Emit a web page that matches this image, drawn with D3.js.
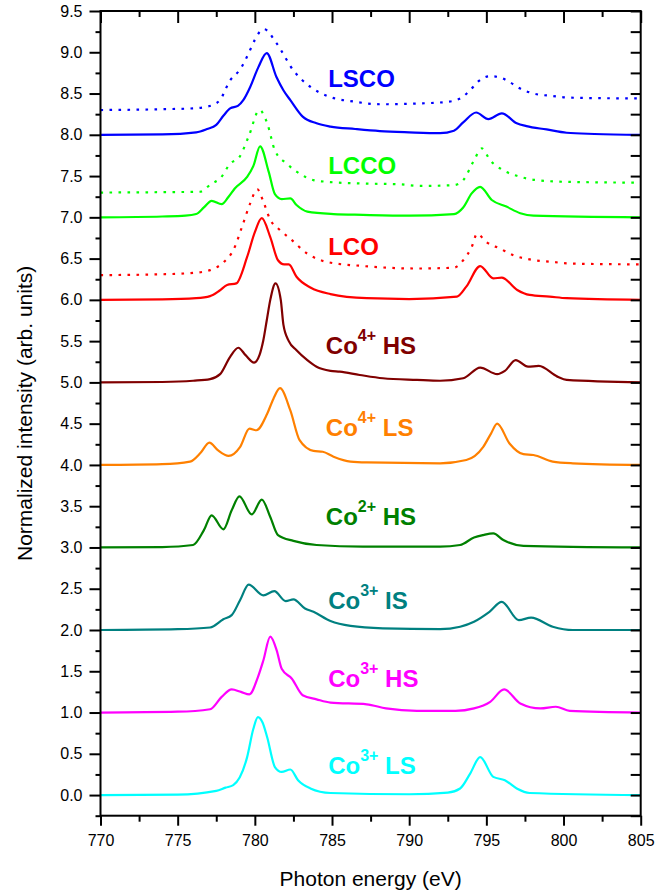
<!DOCTYPE html>
<html>
<head>
<meta charset="utf-8">
<script src="https://cdn.jsdelivr.net/npm/d3@7"></script>
<style>
  html, body { margin: 0; padding: 0; background: #fff; }
  svg { display: block; font-family: "Liberation Sans", Arial, sans-serif; }
</style>
</head>
<body>
<svg id="chart" width="669" height="894"></svg>
<script>
// Co L2,3 XAS spectra, [photon energy (eV), normalized intensity incl. vertical offset]
const lscoMeasured = [[770,8.3],[774,8.31],[776.0,8.32],[776.9,8.34],[777.75,8.42],[778.07,8.54],[778.4,8.66],[778.7,8.72],[779.0,8.78],[779.37,8.9],[779.7,9.03],[780.0,9.15],[780.33,9.25],[780.6,9.28],[781.4,9.11],[782.5,8.78],[783.6,8.58],[784.7,8.47],[786.5,8.4],[788.1,8.37],[790.7,8.38],[792.5,8.4],[793.3,8.44],[793.95,8.54],[794.5,8.65],[795.2,8.71],[795.8,8.7],[796.5,8.64],[797.2,8.56],[798.05,8.5],[799.3,8.47],[800.4,8.45],[805,8.44]];
const lscoCalc = [[770,8.0],[774,8.005],[776.2,8.03],[776.9,8.07],[777.5,8.12],[777.96,8.23],[778.4,8.32],[778.9,8.35],[779.25,8.42],[779.7,8.58],[780.23,8.82],[780.77,8.99],[781.4,8.7],[781.85,8.54],[782.3,8.42],[783.1,8.22],[784.0,8.14],[784.9,8.1],[786.5,8.07],[788.1,8.045],[790,8.03],[792,8.02],[792.9,8.05],[793.5,8.15],[794.34,8.27],[795.13,8.19],[796.0,8.26],[796.97,8.14],[797.6,8.105],[798.9,8.065],[800.2,8.025],[802,8.01],[805,8.0]];
const lccoMeasured = [[770,7.3],[774,7.305],[776.45,7.31],[777.2,7.41],[777.75,7.47],[778.4,7.65],[779.0,7.73],[779.6,7.98],[780.3,8.3],[780.8,8.14],[781.3,7.81],[782.07,7.65],[782.9,7.53],[783.8,7.45],[784.7,7.43],[787,7.41],[789.4,7.4],[790.7,7.38],[792.9,7.39],[793.5,7.45],[794.2,7.69],[794.7,7.835],[795.25,7.69],[796.1,7.57],[797.2,7.49],[798.3,7.45],[800.2,7.43],[805,7.42]];
const lccoCalc = [[770,7.0],[774,7.01],[775.5,7.02],[776.2,7.04],[776.7,7.12],[777.2,7.2],[777.85,7.16],[778.3,7.25],[778.7,7.35],[779.5,7.49],[779.9,7.62],[780.34,7.86],[780.9,7.55],[781.3,7.28],[781.74,7.22],[782.3,7.23],[782.7,7.15],[783.4,7.07],[785.1,7.04],[787,7.03],[790,7.02],[792.9,7.04],[793.5,7.12],[794.05,7.29],[794.6,7.37],[795.35,7.21],[796.3,7.13],[797.2,7.05],[798.05,7.02],[805,7.0]];
const lcoMeasured = [[770,6.3],[774,6.31],[776.2,6.33],[777.1,6.36],[778.0,6.46],[778.6,6.6],[779.25,6.93],[779.7,7.17],[780.16,7.34],[780.55,7.19],[781.0,6.97],[781.6,6.85],[782.3,6.74],[783.4,6.56],[784.65,6.46],[787,6.41],[790.5,6.38],[792.9,6.39],[793.5,6.48],[794.05,6.64],[794.4,6.8],[795.0,6.7],[795.9,6.62],[796.75,6.54],[797.8,6.49],[799.3,6.46],[800.4,6.44],[805,6.43]];
const lcoCalc = [[770,6.0],[774,6.005],[776.2,6.02],[777.1,6.045],[777.7,6.11],[778.2,6.18],[778.8,6.2],[779.5,6.52],[780.0,6.82],[780.45,6.99],[781.0,6.76],[781.5,6.48],[781.9,6.43],[782.2,6.43],[782.7,6.28],[783.6,6.15],[784.9,6.07],[787.25,6.02],[790,6.01],[793.1,6.04],[793.7,6.16],[794.6,6.41],[795.45,6.26],[796.0,6.27],[797.0,6.12],[797.8,6.06],[799.1,6.04],[800.2,6.02],[805,6.0]];
const co4HS = [[770,5.0],[774,5.005],[776,5.02],[777.1,5.04],[777.75,5.1],[778.4,5.31],[778.93,5.42],[779.4,5.33],[779.95,5.24],[780.3,5.33],[780.55,5.51],[780.77,5.75],[781.0,6.0],[781.34,6.2],[781.68,6.0],[781.85,5.7],[782.2,5.5],[782.7,5.39],[783.4,5.27],[784.0,5.19],[784.9,5.14],[785.5,5.13],[786.8,5.09],[788.3,5.05],[790.5,5.03],[792.0,5.02],[793.5,5.05],[794.6,5.18],[795.7,5.1],[796.2,5.14],[796.9,5.27],[797.7,5.19],[798.4,5.2],[799.6,5.07],[800.2,5.03],[805,5.0]];
const co4LS = [[770,4.0],[774,4.01],[775.8,4.04],[776.5,4.15],[777.05,4.27],[777.6,4.18],[778.3,4.11],[779.05,4.22],[779.65,4.44],[780.1,4.42],[780.8,4.62],[781.2,4.8],[781.63,4.93],[782.3,4.66],[782.9,4.3],[783.8,4.17],[784.4,4.16],[785.1,4.1],[786.2,4.04],[787.25,4.03],[792.0,4.02],[793.7,4.06],[794.8,4.22],[795.3,4.38],[795.7,4.5],[796.5,4.26],[797.4,4.13],[798.05,4.12],[799.3,4.04],[800.6,4.02],[805,4.0]];
const co2HS = [[770,3.0],[774,3.005],[776.0,3.03],[776.7,3.21],[777.2,3.39],[777.96,3.22],[778.5,3.45],[779.0,3.62],[779.8,3.4],[780.45,3.58],[781.0,3.37],[781.5,3.15],[782.5,3.08],[784.0,3.03],[787,3.01],[792,3.01],[793.3,3.03],[794.2,3.12],[794.8,3.15],[795.45,3.17],[796.1,3.09],[797.4,3.02],[805,3.0]];
const co3IS = [[770,2.0],[775,2.01],[777.1,2.03],[777.96,2.13],[778.5,2.18],[779.04,2.36],[779.6,2.55],[780.55,2.42],[781.26,2.47],[782.0,2.35],[782.5,2.37],[783.25,2.26],[783.8,2.22],[784.9,2.11],[786.2,2.05],[788.3,2.02],[792,2.01],[793.3,2.04],[794.2,2.1],[795.2,2.22],[796.0,2.34],[797.1,2.12],[797.9,2.15],[799.3,2.04],[800.6,2.0],[805,2.0]];
const co3HS = [[770,1.0],[775,1.01],[777.1,1.04],[777.85,1.19],[778.5,1.28],[779.1,1.25],[779.65,1.22],[780.2,1.43],[780.55,1.63],[781.0,1.92],[781.42,1.75],[781.74,1.53],[782.4,1.41],[783.1,1.21],[784.0,1.16],[784.9,1.12],[787.25,1.1],[788.5,1.05],[790.5,1.02],[793,1.02],[794.2,1.05],[795.25,1.13],[796.15,1.28],[797.2,1.11],[798.5,1.05],[799.5,1.07],[800.4,1.02],[805,1.0]];
const co3LS = [[770,0],[775,0.005],[777.5,0.05],[778.1,0.09],[778.6,0.12],[779.5,0.46],[779.9,0.8],[780.2,0.945],[780.5,0.88],[780.8,0.7],[781.3,0.34],[781.74,0.28],[782.3,0.31],[782.8,0.18],[783.6,0.08],[784.9,0.025],[790,0.01],[792.5,0.03],[793.3,0.08],[793.95,0.26],[794.6,0.46],[795.45,0.22],[796.2,0.18],[796.97,0.08],[797.8,0.025],[805,0]];

const seriesList = [
  { data: lscoMeasured, color: "#0000ff", dotted: true },
  { data: lscoCalc,     color: "#0000ff" },
  { data: lccoMeasured, color: "#00ff00", dotted: true },
  { data: lccoCalc,     color: "#00ff00" },
  { data: lcoMeasured,  color: "#ff0000", dotted: true },
  { data: lcoCalc,      color: "#ff0000" },
  { data: co4HS,        color: "#800000" },
  { data: co4LS,        color: "#ff8000" },
  { data: co2HS,        color: "#008000" },
  { data: co3IS,        color: "#008080" },
  { data: co3HS,        color: "#ff00ff" },
  { data: co3LS,        color: "#00ffff" }
];

// Curve labels: [text, superscript, suffix, energy, intensity, colour]
const curveLabels = [
  ["LSCO", "", "", 784.75, 8.58, "#0000ff"],
  ["LCCO", "", "", 784.75, 7.52, "#00ff00"],
  ["LCO", "", "", 784.75, 6.54, "#ff0000"],
  ["Co", "4+", " HS", 784.6, 5.34, "#800000"],
  ["Co", "4+", " LS", 784.6, 4.35, "#ff8000"],
  ["Co", "2+", " HS", 784.6, 3.27, "#008000"],
  ["Co", "3+", " IS", 784.75, 2.26, "#008080"],
  ["Co", "3+", " HS", 784.75, 1.305, "#ff00ff"],
  ["Co", "3+", " LS", 784.75, 0.26, "#00ffff"]
];

const xMajor = [770, 775, 780, 785, 790, 795, 800, 805];
const xMinor = [772.5, 777.5, 782.5, 787.5, 792.5, 797.5, 802.5];
const yMajor = [0, 0.5, 1, 1.5, 2, 2.5, 3, 3.5, 4, 4.5, 5, 5.5, 6, 6.5, 7, 7.5, 8, 8.5, 9, 9.5];
const yMinor = [-0.25, 0.25, 0.75, 1.25, 1.75, 2.25, 2.75, 3.25, 3.75, 4.25, 4.75, 5.25, 5.75, 6.25, 6.75, 7.25, 7.75, 8.25, 8.75, 9.25];

const svg = d3.select("#chart");
const padL = 100.5, padR = 640.7, padT = 11, padB = 815.7;

const x = d3.scaleLinear().domain([770, 805]).range([padL, padR]);
const y = d3.scaleLinear().domain([-0.25, 9.5]).range([padB, padT]);

const line = d3.line()
  .x(d => x(d[0]))
  .y(d => y(d[1]))
  .curve(d3.curveMonotoneX);

const plot = svg.append("g");
seriesList.forEach(s => {
  plot.append("path")
    .datum(s.data)
    .attr("fill", "none")
    .attr("stroke", s.color)
    .attr("stroke-width", 2.2)
    .attr("stroke-linejoin", "round")
    .attr("stroke-dasharray", s.dotted ? "2.6,6.4" : null)
    .attr("d", line);
});

// Axes: ticks out on bottom/left, in on top/right
function styleAxis(g) {
  g.select(".domain").remove();
  g.selectAll(".tick line").attr("stroke", "#000").attr("stroke-width", 2);
  g.selectAll(".tick text").attr("fill", "#000")
    .style("font-family", "'Liberation Sans', Arial, sans-serif")
    .style("font-size", "16px");
}

svg.append("g").attr("transform", `translate(0,${padB})`)
  .call(d3.axisBottom(x).tickValues(xMajor).tickSize(10).tickPadding(9).tickFormat(d3.format("d")))
  .call(styleAxis);
svg.append("g").attr("transform", `translate(0,${padB})`)
  .call(d3.axisBottom(x).tickValues(xMinor).tickSize(6).tickFormat(""))
  .call(styleAxis);
svg.append("g").attr("transform", `translate(0,${padT})`)
  .call(d3.axisTop(x).tickValues(xMajor).tickSize(-12).tickFormat(""))
  .call(styleAxis);
svg.append("g").attr("transform", `translate(0,${padT})`)
  .call(d3.axisTop(x).tickValues(xMinor).tickSize(-6).tickFormat(""))
  .call(styleAxis);

svg.append("g").attr("transform", `translate(${padL},0)`)
  .call(d3.axisLeft(y).tickValues(yMajor).tickSize(11).tickPadding(7).tickFormat(d3.format(".1f")))
  .call(styleAxis);
svg.append("g").attr("transform", `translate(${padL},0)`)
  .call(d3.axisLeft(y).tickValues(yMinor).tickSize(5).tickFormat(""))
  .call(styleAxis);
svg.append("g").attr("transform", `translate(${padR},0)`)
  .call(d3.axisRight(y).tickValues(yMajor.concat(yMinor)).tickSize(-10).tickFormat(""))
  .call(styleAxis);

// Frame
svg.append("rect")
  .attr("x", padL).attr("y", padT)
  .attr("width", padR - padL).attr("height", padB - padT)
  .attr("fill", "none").attr("stroke", "#000").attr("stroke-width", 2);

// Curve labels
curveLabels.forEach(([main, sup, tail, e, v, col]) => {
  const t = svg.append("text")
    .attr("x", x(e)).attr("y", y(v))
    .attr("fill", col)
    .style("font-size", "24px")
    .style("font-weight", "bold");
  t.append("tspan").text(main);
  if (sup) {
    t.append("tspan").attr("dy", -13).style("font-size", "16px").text(sup);
    t.append("tspan").attr("dy", 13).text(tail);
  }
});

// Axis titles
svg.append("text")
  .attr("x", (padL + padR) / 2).attr("y", 886)
  .attr("text-anchor", "middle")
  .style("font-size", "21px")
  .text("Photon energy (eV)");

svg.append("text")
  .attr("transform", `translate(32,${(padT + padB) / 2}) rotate(-90)`)
  .attr("text-anchor", "middle")
  .style("font-size", "21px")
  .text("Normalized intensity (arb. units)");
</script>
</body>
</html>
